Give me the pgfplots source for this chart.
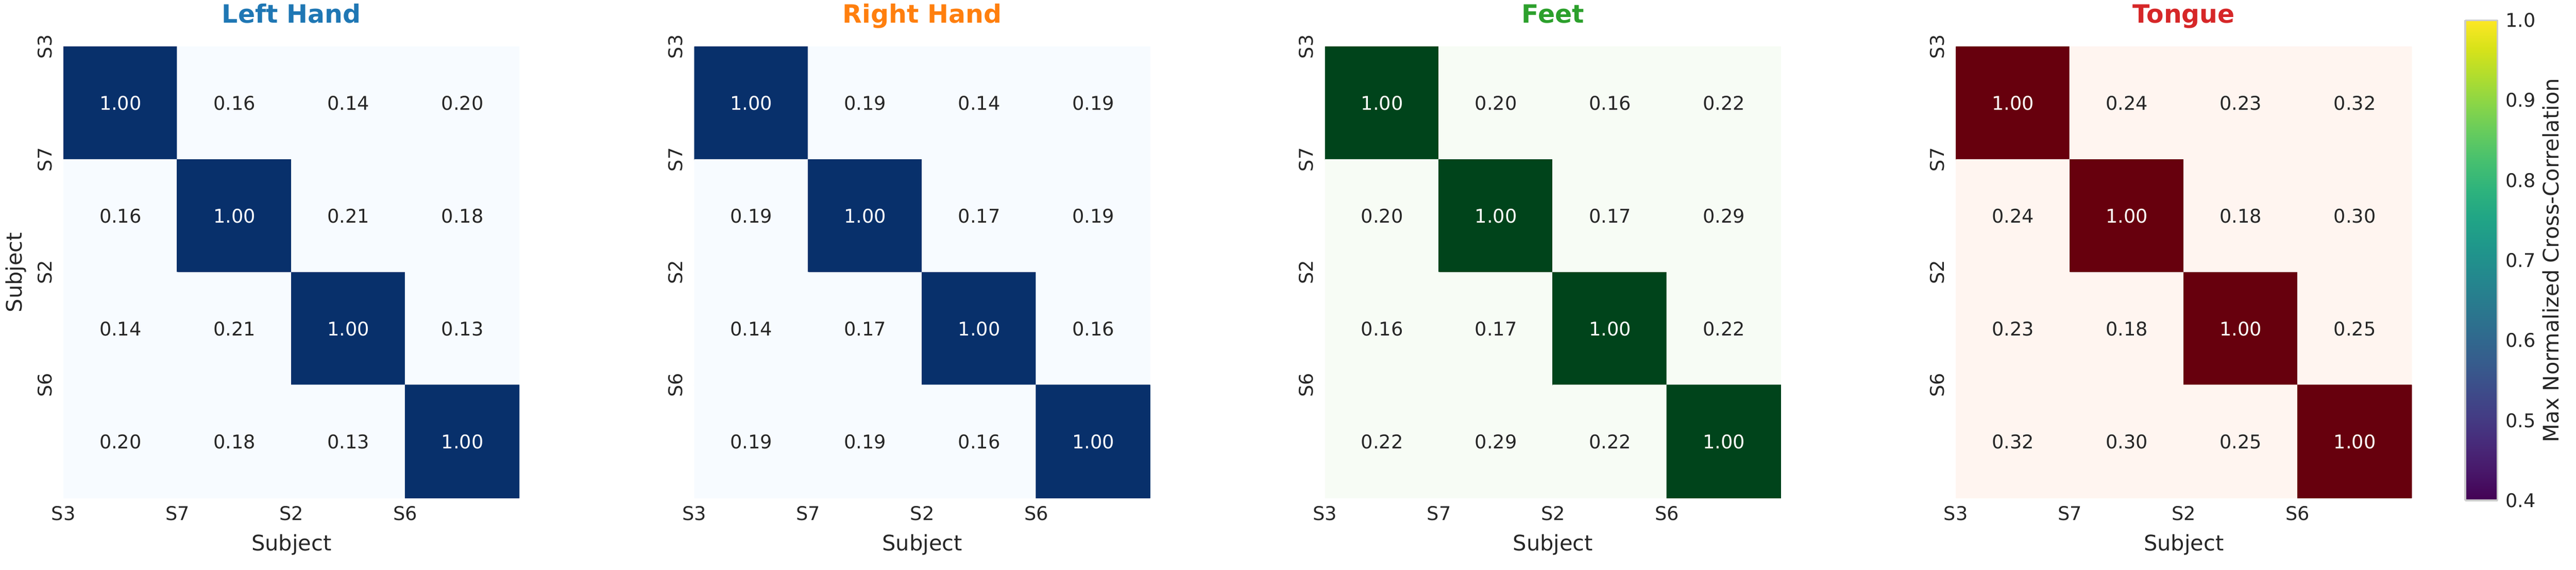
\documentclass[border=0pt]{standalone}
\usepackage{pgfplots}
\usepackage{pgfplotstable}
\pgfplotsset{compat=1.18}
\usepackage{fontspec}
\setmainfont{DejaVu Sans}
\definecolor{txtdark}{HTML}{262626}
\definecolor{cLH}{HTML}{1F77B4}
\definecolor{cRH}{HTML}{FF7F0E}
\definecolor{cFE}{HTML}{2CA02C}
\definecolor{cTO}{HTML}{D62728}
\definecolor{cbgray}{HTML}{CCCCCC}

\pgfplotstableread{
x y v c
0 0 1.00 white
1 0 0.16 txtdark
2 0 0.14 txtdark
3 0 0.20 txtdark
0 1 0.16 txtdark
1 1 1.00 white
2 1 0.21 txtdark
3 1 0.18 txtdark
0 2 0.14 txtdark
1 2 0.21 txtdark
2 2 1.00 white
3 2 0.13 txtdark
0 3 0.20 txtdark
1 3 0.18 txtdark
2 3 0.13 txtdark
3 3 1.00 white
}\datLH
\pgfplotstableread{
x y v c
0 0 1.00 white
1 0 0.19 txtdark
2 0 0.14 txtdark
3 0 0.19 txtdark
0 1 0.19 txtdark
1 1 1.00 white
2 1 0.17 txtdark
3 1 0.19 txtdark
0 2 0.14 txtdark
1 2 0.17 txtdark
2 2 1.00 white
3 2 0.16 txtdark
0 3 0.19 txtdark
1 3 0.19 txtdark
2 3 0.16 txtdark
3 3 1.00 white
}\datRH
\pgfplotstableread{
x y v c
0 0 1.00 white
1 0 0.20 txtdark
2 0 0.16 txtdark
3 0 0.22 txtdark
0 1 0.20 txtdark
1 1 1.00 white
2 1 0.17 txtdark
3 1 0.29 txtdark
0 2 0.16 txtdark
1 2 0.17 txtdark
2 2 1.00 white
3 2 0.22 txtdark
0 3 0.22 txtdark
1 3 0.29 txtdark
2 3 0.22 txtdark
3 3 1.00 white
}\datFE
\pgfplotstableread{
x y v c
0 0 1.00 white
1 0 0.24 txtdark
2 0 0.23 txtdark
3 0 0.32 txtdark
0 1 0.24 txtdark
1 1 1.00 white
2 1 0.18 txtdark
3 1 0.30 txtdark
0 2 0.23 txtdark
1 2 0.18 txtdark
2 2 1.00 white
3 2 0.25 txtdark
0 3 0.32 txtdark
1 3 0.30 txtdark
2 3 0.25 txtdark
3 3 1.00 white
}\datTO

\pgfplotsset{
  hm/.style={
    anchor=south west,
    scale only axis, width=181pt, height=179pt,
    xmin=-0.5, xmax=3.5, ymin=-0.5, ymax=3.5, y dir=reverse,
    axis line style={draw=none}, major tick length=0pt,
    xtick={-0.5,0.5,1.5,2.5}, ytick={-0.5,0.5,1.5,2.5},
    xticklabels={S3,S7,S2,S6}, yticklabels={S3,S7,S2,S6},
    tick label style={font=\fontsize{7.5}{8.5}\selectfont, text=txtdark, inner sep=0pt},
    xticklabel style={anchor=north}, xticklabel shift=3pt,
    yticklabel style={rotate=90, anchor=south}, yticklabel shift=4.4pt,
    xlabel={Subject},
    xlabel style={at={(axis description cs:0.5,-0.1173)}, anchor=base, font=\fontsize{8.5}{10}\selectfont, text=txtdark},
    title style={at={(axis description cs:0.5,1)}, anchor=base, yshift=3.6pt, font=\fontsize{10}{12}\selectfont\bfseries},
    point meta min=0, point meta max=1,
  },
  ann/.style={
    only marks, mark=none, point meta=explicit symbolic,
    visualization depends on={\thisrow{v} \as \val},
    nodes near coords={\textcolor{\pgfplotspointmeta}{\pgfmathprintnumber[fixed, fixed zerofill, precision=2, assume math mode=true]{\val}}},
    every node near coord/.append style={anchor=center, font=\fontsize{7.5}{8.5}\selectfont},
  },
}

\begin{document}
\begin{tikzpicture}
\useasboundingbox (0,0) rectangle (1022.6pt,226pt);

% Left Hand
\begin{axis}[hm, at={(25.2pt,28.4pt)},
  title={\textcolor{cLH}{Left Hand}},
  ylabel={Subject},
  ylabel style={at={(axis description cs:-0.1044,0.5)}, anchor=center, rotate=0, font=\fontsize{8.5}{10}\selectfont, text=txtdark},
  colormap={blues}{rgb255(0cm)=(247,251,255) rgb255(4cm)=(247,251,255) rgb255(4.75cm)=(222,235,247) rgb255(5.5cm)=(198,219,239) rgb255(6.25cm)=(158,202,225) rgb255(7cm)=(107,174,214) rgb255(7.75cm)=(66,146,198) rgb255(8.5cm)=(33,113,181) rgb255(9.25cm)=(8,81,156) rgb255(10cm)=(8,48,107)}]
\addplot[matrix plot*, mesh/cols=4, point meta=explicit] table[x=x, y=y, meta=v] \datLH;
\addplot[ann] table[x=x, y=y, meta=c] \datLH;
\end{axis}

% Right Hand
\begin{axis}[hm, at={(275.6pt,28.4pt)},
  title={\textcolor{cRH}{Right Hand}},
  colormap={blues}{rgb255(0cm)=(247,251,255) rgb255(4cm)=(247,251,255) rgb255(4.75cm)=(222,235,247) rgb255(5.5cm)=(198,219,239) rgb255(6.25cm)=(158,202,225) rgb255(7cm)=(107,174,214) rgb255(7.75cm)=(66,146,198) rgb255(8.5cm)=(33,113,181) rgb255(9.25cm)=(8,81,156) rgb255(10cm)=(8,48,107)}]
\addplot[matrix plot*, mesh/cols=4, point meta=explicit] table[x=x, y=y, meta=v] \datRH;
\addplot[ann] table[x=x, y=y, meta=c] \datRH;
\end{axis}

% Feet
\begin{axis}[hm, at={(526pt,28.4pt)},
  title={\textcolor{cFE}{Feet}},
  colormap={greens}{rgb255(0cm)=(247,252,245) rgb255(4cm)=(247,252,245) rgb255(4.75cm)=(229,245,224) rgb255(5.5cm)=(199,233,192) rgb255(6.25cm)=(161,217,155) rgb255(7cm)=(116,196,118) rgb255(7.75cm)=(65,171,93) rgb255(8.5cm)=(35,139,69) rgb255(9.25cm)=(0,109,44) rgb255(10cm)=(0,68,27)}]
\addplot[matrix plot*, mesh/cols=4, point meta=explicit] table[x=x, y=y, meta=v] \datFE;
\addplot[ann] table[x=x, y=y, meta=c] \datFE;
\end{axis}

% Tongue
\begin{axis}[hm, at={(776.4pt,28.4pt)},
  title={\textcolor{cTO}{Tongue}},
  colormap={reds}{rgb255(0cm)=(255,245,240) rgb255(4cm)=(255,245,240) rgb255(4.75cm)=(254,224,210) rgb255(5.5cm)=(252,187,161) rgb255(6.25cm)=(252,146,114) rgb255(7cm)=(251,106,74) rgb255(7.75cm)=(239,59,44) rgb255(8.5cm)=(203,24,29) rgb255(9.25cm)=(165,15,21) rgb255(10cm)=(103,0,13)}]
\addplot[matrix plot*, mesh/cols=4, point meta=explicit] table[x=x, y=y, meta=v] \datTO;
\addplot[ann] table[x=x, y=y, meta=c] \datTO;
\end{axis}

% Colorbar
\begin{axis}[anchor=south west, at={(978.6pt,27.4pt)},
  scale only axis, width=12.8pt, height=190.6pt,
  xmin=0, xmax=1, ymin=0.4, ymax=1, view={0}{90},
  xtick=\empty, ytick={0.4,0.5,0.6,0.7,0.8,0.9,1.0},
  yticklabel pos=right, major tick length=0pt,
  axis line style={draw=cbgray, line width=0.66pt},
  yticklabel style={anchor=west, inner sep=0pt, font=\fontsize{7.5}{8.5}\selectfont, text=txtdark,
    /pgf/number format/fixed, /pgf/number format/precision=1, /pgf/number format/fixed zerofill,
    /pgf/number format/assume math mode=true},
  yticklabel shift=3pt,
  ylabel={Max Normalized Cross-Correlation},
  ylabel style={at={(axis description cs:2.66,0.5)}, anchor=center, rotate=0, font=\fontsize{8.5}{10}\selectfont, text=txtdark},
  colormap/viridis]
\addplot3[surf, shader=interp, mesh/cols=2, point meta=y] coordinates {
(0,0.40,0) (1,0.40,0)
(0,0.45,0) (1,0.45,0)
(0,0.50,0) (1,0.50,0)
(0,0.55,0) (1,0.55,0)
(0,0.60,0) (1,0.60,0)
(0,0.65,0) (1,0.65,0)
(0,0.70,0) (1,0.70,0)
(0,0.75,0) (1,0.75,0)
(0,0.80,0) (1,0.80,0)
(0,0.85,0) (1,0.85,0)
(0,0.90,0) (1,0.90,0)
(0,0.95,0) (1,0.95,0)
(0,1.00,0) (1,1.00,0)
};
\end{axis}
\end{tikzpicture}
\end{document}
